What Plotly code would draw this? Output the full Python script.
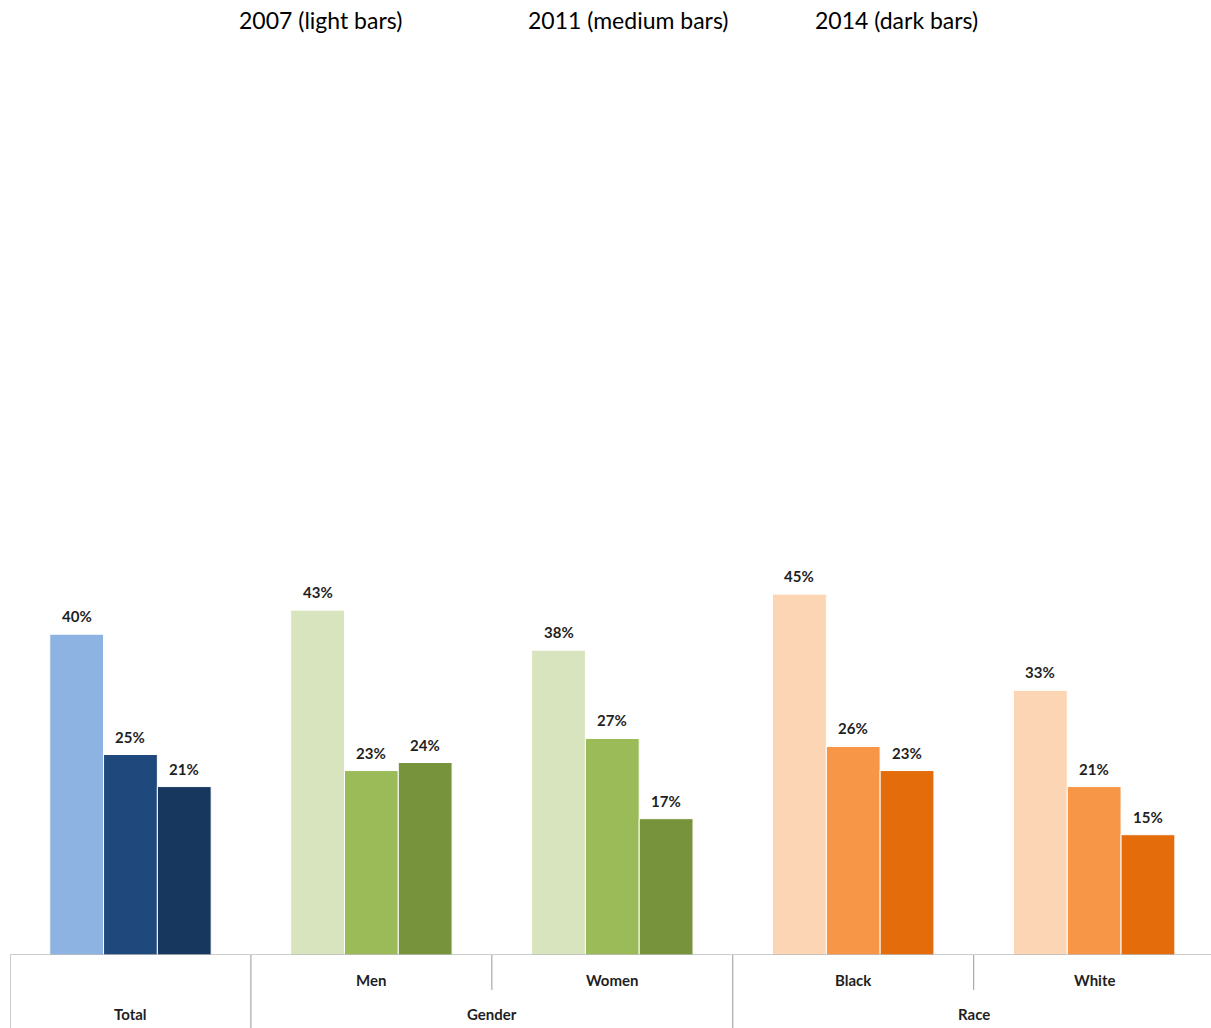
import plotly.graph_objects as go

# Category groups (inner level) and their outer grouping
categories = ["Total", "Men", "Women", "Black", "White"]
outer_groups = [("Total", 0, 0), ("Gender", 1, 2), ("Race", 3, 4)]

# Share of respondents by year
values_2007 = [40, 43, 38, 45, 33]
values_2011 = [25, 23, 27, 26, 21]
values_2014 = [21, 24, 17, 23, 15]

# Colour families per group: light / medium / dark
colors_2007 = ["#8DB3E2", "#D7E4BD", "#D7E4BD", "#FCD5B5", "#FCD5B5"]
colors_2011 = ["#1F497D", "#9BBB59", "#9BBB59", "#F79646", "#F79646"]
colors_2014 = ["#17375E", "#77933C", "#77933C", "#E46C0A", "#E46C0A"]

headers = ["2007 (light bars)", "2011 (medium bars)", "2014 (dark bars)"]

W, H = 1211, 1028
M_L, M_R, M_T, M_B = 10, 0, 153, 73
plot_w = W - M_L - M_R
plot_h = H - M_T - M_B
BARGAP = 0.33
X_MAX = 4.485  # last group slightly clipped at the right edge
FONT = "Lato, 'Open Sans', sans-serif"

xs = list(range(len(categories)))
series = [(values_2007, colors_2007), (values_2011, colors_2011), (values_2014, colors_2014)]

fig = go.Figure()
for vals, cols in series:
    fig.add_trace(go.Bar(
        x=xs, y=vals,
        marker=dict(color=cols, line=dict(color="white", width=1)),
        showlegend=False, hoverinfo="skip",
    ))

# value labels above each bar
bar_w = (1 - BARGAP) / 3
annotations = []
for j, (vals, _) in enumerate(series):
    for i, v in enumerate(vals):
        annotations.append(dict(
            x=i + (j - 1) * bar_w, y=v, xref="x", yref="y",
            text=f"<b>{v}%</b>", showarrow=False, yshift=18,
            xanchor="center", yanchor="middle",
            font=dict(family=FONT, size=15, color="#1F1F1F"),
        ))

def py(px_below):
    """paper y for a pixel distance below the baseline"""
    return -px_below / plot_h

# category labels (inner level)
for i, c in enumerate(categories):
    if c == "Total":
        continue
    annotations.append(dict(
        x=i, y=py(25), xref="x", yref="paper", text=f"<b>{c}</b>",
        showarrow=False, xanchor="center", yanchor="middle",
        font=dict(family=FONT, size=15, color="#1F1F1F"),
    ))
# outer group labels
for name, a, b in outer_groups:
    annotations.append(dict(
        x=(a + b) / 2, y=py(59), xref="x", yref="paper", text=f"<b>{name}</b>",
        showarrow=False, xanchor="center", yanchor="middle",
        font=dict(family=FONT, size=15, color="#1F1F1F"),
    ))

# header line (pixel centres converted to paper coordinates)
for k, h in enumerate(headers):
    px_x = [320, 628, 896][k]
    annotations.append(dict(
        x=(px_x - M_L) / plot_w, y=1 + (M_T - 20) / plot_h,
        xref="paper", yref="paper", text=h,
        showarrow=False, xanchor="center", yanchor="middle",
        font=dict(family=FONT, size=23, color="#000000"),
    ))

# axis lines and group separators
line = dict(color="#999999", width=1)
shapes = [dict(type="line", xref="x", yref="y", x0=-0.5, x1=X_MAX, y0=0, y1=0, line=line)]
for xv in [-0.5, 0.5, 2.5]:
    shapes.append(dict(type="line", xref="x", yref="paper", x0=xv, x1=xv, y0=0, y1=py(73), line=line))
for xv in [1.5, 3.5]:
    shapes.append(dict(type="line", xref="x", yref="paper", x0=xv, x1=xv, y0=0, y1=py(35), line=line))

fig.update_layout(
    width=W, height=H,
    margin=dict(l=M_L, r=M_R, t=M_T, b=M_B, pad=0),
    paper_bgcolor="white", plot_bgcolor="white",
    barmode="group", bargap=BARGAP, bargroupgap=0,
    xaxis=dict(range=[-0.5, X_MAX], showticklabels=False, showgrid=False,
               zeroline=False, showline=False, ticks=""),
    yaxis=dict(range=[0, 100], visible=False, showgrid=False, zeroline=False),
    annotations=annotations, shapes=shapes,
)

fig.write_html("out.html")
